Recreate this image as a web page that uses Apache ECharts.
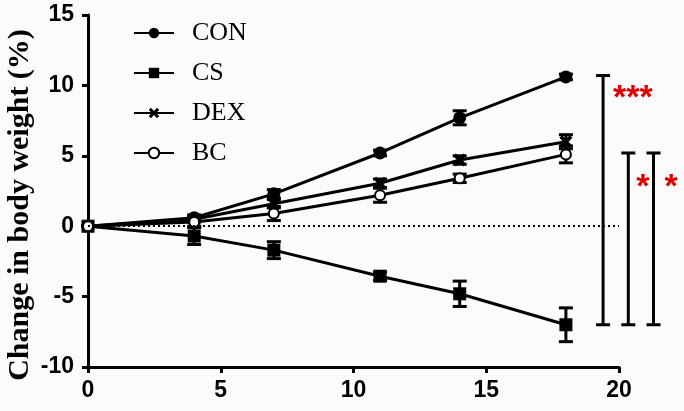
<!DOCTYPE html>
<html>
<head>
<meta charset="utf-8">
<script src="https://cdn.jsdelivr.net/npm/echarts@6/dist/echarts.min.js"></script>
<style>
  html, body { margin: 0; padding: 0; background: #fbfbfb; }
  #chart { width: 684px; height: 411px; }
</style>
</head>
<body>
<div id="chart"></div>
<script>
// 数据
const days = [0, 4, 7, 11, 14, 18];
const conVals = [0, 0.6, 2.3, 5.2, 7.7, 10.6];
const csVals = [0, -0.7, -1.7, -3.55, -4.8, -7.0];
const dexVals = [0, 0.5, 1.6, 3.05, 4.7, 6.0];
const bcVals = [0, 0.3, 0.9, 2.2, 3.4, 5.1];
const conErr = [0, 0.2, 0.3, 0.2, 0.5, 0.2];
const csErr = [0, 0.6, 0.6, 0.3, 0.9, 1.2];
const dexErr = [0, 0.2, 0.3, 0.3, 0.3, 0.5];
const bcErr = [0, 0.3, 0.5, 0.5, 0.3, 0.6];
// 显著性括号 [x, 上, 下, 标注]
const brackets = [
  [19.4, 10.7, -7.0, "***"],
  [20.35, 5.2, -7.0, "*"],
  [21.3, 5.2, -7.0, "*"],
];

const crossIcon = "path://M2,0L5,3L8,0L10,2L7,5L10,8L8,10L5,7L2,10L0,8L3,5L0,2Z";

function pairs(vals) {
  return days.map((d, i) => [d, vals[i]]);
}
function errData(vals, errs) {
  return days.map((d, i) => [d, vals[i] - errs[i], vals[i] + errs[i]]);
}

function errRender(params, api) {
  const x = api.value(0);
  const lo = api.coord([x, api.value(1)]);
  const hi = api.coord([x, api.value(2)]);
  const w = 7;
  const style = { stroke: "#000", lineWidth: 3 };
  return {
    type: "group",
    children: [
      { type: "line", shape: { x1: lo[0], y1: lo[1], x2: hi[0], y2: hi[1] }, style: style },
      { type: "line", shape: { x1: lo[0] - w, y1: lo[1], x2: lo[0] + w, y2: lo[1] }, style: style },
      { type: "line", shape: { x1: hi[0] - w, y1: hi[1], x2: hi[0] + w, y2: hi[1] }, style: style },
    ],
  };
}

function errSeries(vals, errs) {
  return {
    type: "custom",
    renderItem: errRender,
    data: errData(vals, errs),
    clip: false,
    silent: true,
    z: 1,
  };
}

function lineSeries(name, vals, symbol, size) {
  return {
    name: name,
    type: "line",
    data: pairs(vals),
    symbol: symbol,
    symbolSize: size,
    showAllSymbol: true,
    lineStyle: { color: "#000", width: 3 },
    itemStyle: { color: "#000", borderColor: "#000", borderWidth: symbol === "emptyCircle" ? 3 : 0 },
    z: 3,
  };
}

const myChart = echarts.init(document.getElementById("chart"));

const option = {
  backgroundColor: "#fbfbfb",
  animation: false,
  grid: { left: 88, right: 65, top: 15, bottom: 44, outerBoundsMode: "none" },
  legend: {
    orient: "vertical",
    left: 133,
    top: 20,
    padding: 0,
    itemWidth: 40,
    itemHeight: 13,
    itemGap: 14,
    data: ["CON", "CS", "DEX", { name: "BC", itemStyle: { borderWidth: 3 } }],
    textStyle: {
      fontFamily: "Liberation Serif",
      fontSize: 26,
      lineHeight: 26,
      color: "#000",
      padding: [0, 0, 0, 13],
    },
  },
  xAxis: {
    type: "value",
    min: 0,
    max: 20,
    interval: 5,
    splitLine: { show: false },
    axisLine: { onZero: false, lineStyle: { color: "#000", width: 3 } },
    axisTick: { show: true, length: 6, lineStyle: { color: "#000", width: 3 } },
    axisLabel: {
      color: "#000",
      fontFamily: "Liberation Sans",
      fontWeight: "bold",
      fontSize: 23,
      margin: 12,
    },
  },
  yAxis: {
    type: "value",
    min: -10,
    max: 15,
    interval: 5,
    name: "Change in body weight (%)",
    nameLocation: "middle",
    nameGap: 53,
    nameMoveOverlap: false,
    nameTextStyle: {
      color: "#000",
      fontFamily: "Liberation Serif",
      fontWeight: "bold",
      fontSize: 30,
      padding: [0, 28, 0, 0],
    },
    splitLine: { show: false },
    axisLine: { show: true, lineStyle: { color: "#000", width: 3 } },
    axisTick: { show: true, length: 6, lineStyle: { color: "#000", width: 3 } },
    axisLabel: {
      color: "#000",
      fontFamily: "Liberation Sans",
      fontWeight: "bold",
      fontSize: 23,
      margin: 14,
    },
  },
  series: [
    errSeries(conVals, conErr),
    errSeries(csVals, csErr),
    errSeries(dexVals, dexErr),
    errSeries(bcVals, bcErr),
    Object.assign(lineSeries("CON", conVals, "circle", 13), {
      markLine: {
        silent: true,
        symbol: "none",
        label: { show: false },
        lineStyle: { color: "#000", type: [2, 3], width: 2 },
        data: [[{ coord: [0, 0] }, { coord: [20, 0] }]],
      },
    }),
    lineSeries("CS", csVals, "rect", 13),
    lineSeries("DEX", dexVals, crossIcon, 13),
    lineSeries("BC", bcVals, "emptyCircle", 10),
    {
      type: "custom",
      clip: false,
      silent: true,
      data: brackets,
      renderItem: function (params, api) {
        const x = api.value(0);
        const top = api.coord([x, api.value(1)]);
        const bot = api.coord([x, api.value(2)]);
        const w = 7;
        const style = { stroke: "#000", lineWidth: 3 };
        const label = brackets[params.dataIndex][3];
        const textY = label === "***" ? top[1] + 23 : top[1] + 35;
        const textX = label === "***" ? top[0] + 10 : top[0] + 5 + params.dataIndex * 3;
        return {
          type: "group",
          children: [
            { type: "line", shape: { x1: top[0], y1: top[1], x2: bot[0], y2: bot[1] }, style: style },
            { type: "line", shape: { x1: top[0] - w, y1: top[1], x2: top[0] + w, y2: top[1] }, style: style },
            { type: "line", shape: { x1: bot[0] - w, y1: bot[1], x2: bot[0] + w, y2: bot[1] }, style: style },
            {
              type: "text",
              style: {
                text: label,
                x: textX,
                y: textY,
                fill: "#e00000",
                font: "bold 34px 'Liberation Sans'",
                textVerticalAlign: "middle",
              },
            },
          ],
        };
      },
    },
  ],
};

myChart.setOption(option);
</script>
</body>
</html>
